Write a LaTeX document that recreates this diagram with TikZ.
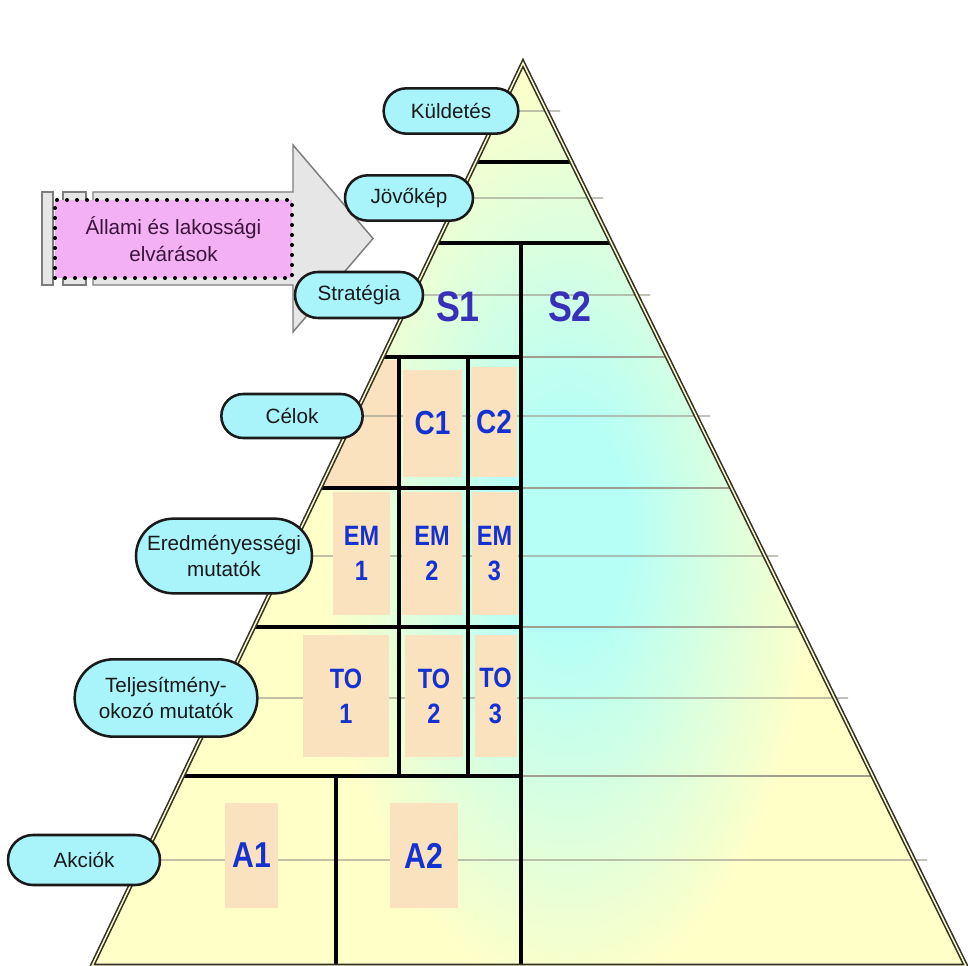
\documentclass[tikz,border=0pt]{standalone}
\usepackage{fontspec}
\setmainfont{Liberation Sans}
\newfontfamily\cellfont{Liberation Sans}[FakeStretch=0.84]
\usetikzlibrary{positioning,shapes.misc,backgrounds}
\definecolor{ink}      {HTML}{1A1A1A}
\definecolor{lblfill}  {RGB}{168,244,250}
\definecolor{pyrfill}  {RGB}{255,255,200}
\definecolor{pyrcyan}  {RGB}{182,255,246}
\definecolor{peach}    {RGB}{250,226,190}
\definecolor{pinkfill} {RGB}{243,176,243}
\definecolor{pinktext} {RGB}{60,20,60}
\definecolor{arrowfill}{RGB}{230,230,230}
\definecolor{arrowline}{RGB}{125,125,125}
\definecolor{guide}    {RGB}{160,160,145}
\definecolor{cellblue} {RGB}{20,50,210}
\definecolor{stratblue}{RGB}{55,48,185}
\definecolor{edgeline} {RGB}{50,50,40}
\pgfdeclareradialshading{cyanglow}{\pgfpoint{0bp}{0bp}}{%
  color(0bp)=(pyrcyan); color(6bp)=(pyrcyan); color(25bp)=(pyrfill); color(50bp)=(pyrfill)}
\tikzset{
  % --- nodes
  lbl/.style    = {rounded rectangle, draw=ink, line width=1.9pt, fill=lblfill, text=ink,
                   align=center, inner sep=0pt, font=\fontsize{15.5}{20}\selectfont},
  cell/.style   = {fill=peach, text=cellblue, align=center, inner sep=0pt,
                   font=\cellfont\bfseries\fontsize{21}{26.5}\selectfont},
  cellbig/.style= {cell, font=\cellfont\bfseries\fontsize{25}{28}\selectfont},
  cellact/.style= {cell, font=\cellfont\bfseries\fontsize{27}{30}\selectfont},
  strat/.style  = {text=stratblue, inner sep=0pt,
                   font=\cellfont\bfseries\fontsize{32}{34}\selectfont},
  pinkbox/.style= {fill=pinkfill, draw=black, line width=3pt, line cap=round,
                   dash pattern=on 0pt off 7.5pt, text=pinktext, align=center,
                   inner sep=0pt, font=\fontsize{15.5}{20.5}\selectfont},
  % --- lines
  arr/.style    = {fill=arrowfill, draw=arrowline, line width=1.1pt},
  guide/.style  = {draw=guide, line width=0.9pt},
  rowline/.style= {draw=guide, line width=2.2pt},
  wall/.style   = {draw=black, line width=3pt},
  edge/.style   = {draw=edgeline, line width=1.2pt, double=white!80!yellow, double distance=1.1pt},
}
\begin{document}
\begin{tikzpicture}[x=0.75pt, y=-0.75pt]
  \useasboundingbox (0,0) rectangle (968,966);
  \coordinate (apex) at (523,63);
  \coordinate (bl) at (92,966);
  \coordinate (br) at (966,966);

  % labels on the left
  \node[lbl, minimum width=101pt, minimum height=34pt] (kuld) at (451,111) {Küldetés};
  \node[lbl, minimum width=96pt, minimum height=34pt] (jovo) at (409,198) {Jövőkép};
  \node[lbl, minimum width=96pt, minimum height=34.5pt] (strat) at (359,295) {Stratégia};
  \node[lbl, minimum width=106pt, minimum height=33pt] (celok) at (292,416) {Célok};
  \node[lbl, minimum width=132pt, minimum height=56pt] (eredm) at (224,556) {Eredményességi\\mutatók};
  \node[lbl, minimum width=137pt, minimum height=58pt] (telj) at (166,698) {Teljesítmény-\\okozó mutatók};
  \node[lbl, minimum width=114pt, minimum height=37.5pt] (akcio) at (84,860) {Akciók};

  \begin{scope}[on background layer]
    % striped arrow with the expectations
    \draw[arr] (42,192) rectangle (53,285);
    \draw[arr] (63,192) rectangle (86,285);
    \draw[arr] (93,192) -- (293,192) -- (293,145) -- (373,238.5) -- (293,332) -- (293,285) -- (93,285) -- cycle;
    \node[pinkbox, minimum width=177.75pt, minimum height=58.5pt] (elvar) at (173.5,239) {Állami és lakossági\\elvárások};

    % pyramid body
    \begin{scope}
      \clip (apex) -- (bl) -- (br) -- cycle;
      \fill[pyrfill] (0,0) rectangle (968,966);
      \shade[shading=cyanglow] (568,530) ellipse [x radius=250, y radius=470];
      \fill[peach] (300,360) rectangle (398,486);
      \foreach \y in {357,488,627,776}
        \draw[rowline] (521,\y) -- (968,\y);
    \end{scope}

    % leader lines
    \coordinate (kuldend) at (560,111);
    \coordinate (jovoend) at (603,198);
    \coordinate (stratend) at (650,295);
    \coordinate (celokend) at (710,416);
    \coordinate (eredmend) at (778,556);
    \coordinate (teljend) at (848,698);
    \coordinate (akcioend) at (927,860);
    \draw[guide] (kuld) -- (kuldend);
    \draw[guide] (jovo) -- (jovoend);
    \draw[guide] (strat) -- (stratend);
    \draw[guide] (celok) -- (celokend);
    \draw[guide] (eredm) -- (eredmend);
    \draw[guide] (telj) -- (teljend);
    \draw[guide] (akcio) -- (akcioend);

    % cells
    \node[strat] (s1) at (458,307) {S1};
    \node[strat] (s2) at (570,307) {S2};
    \node[cellbig, minimum width=44pt, minimum height=80pt] (c1) at (432.5,423.5) {C1};
    \node[cellbig, minimum width=35pt, minimum height=82pt] (c2) at (494,422) {C2};
    \node[cell, minimum width=43pt, minimum height=92pt] (em1) at (361.5,553.5) {EM\\1};
    \node[cell, minimum width=45pt, minimum height=92pt] (em2) at (432,553.5) {EM\\2};
    \node[cell, minimum width=34.5pt, minimum height=92pt] (em3) at (494.5,553.5) {EM\\3};
    \node[cell, minimum width=64.5pt, minimum height=91.5pt] (to1) at (346,696) {TO\\1};
    \node[cell, minimum width=43.5pt, minimum height=91.5pt] (to2) at (434,696) {TO\\2};
    \node[cell, minimum width=31.5pt, minimum height=91.5pt] (to3) at (495.5,696) {TO\\3};
    \node[cellact, minimum width=40pt, minimum height=79pt] (a1) at (251.5,855.5) {A1};
    \node[cellact, minimum width=51pt, minimum height=79pt] (a2) at (424,855.5) {A2};

    % dividing walls
    \begin{scope}
      \clip (apex) -- (bl) -- (br) -- cycle;
      \draw[wall] (0,162) -- (968,162);
      \draw[wall] (0,243) -- (968,243);
      \foreach \y in {357,488,627,776}
        \draw[wall] (0,\y) -- (521,\y);
      \draw[wall] (521,243) -- (521,966);
      \draw[wall] (399,357) -- (399,776);
      \draw[wall] (468,357) -- (468,776);
      \draw[wall] (336,776) -- (336,966);
    \end{scope}
    \draw[edge] (apex) -- (bl) -- (br) -- cycle;
  \end{scope}
\end{tikzpicture}
\end{document}
